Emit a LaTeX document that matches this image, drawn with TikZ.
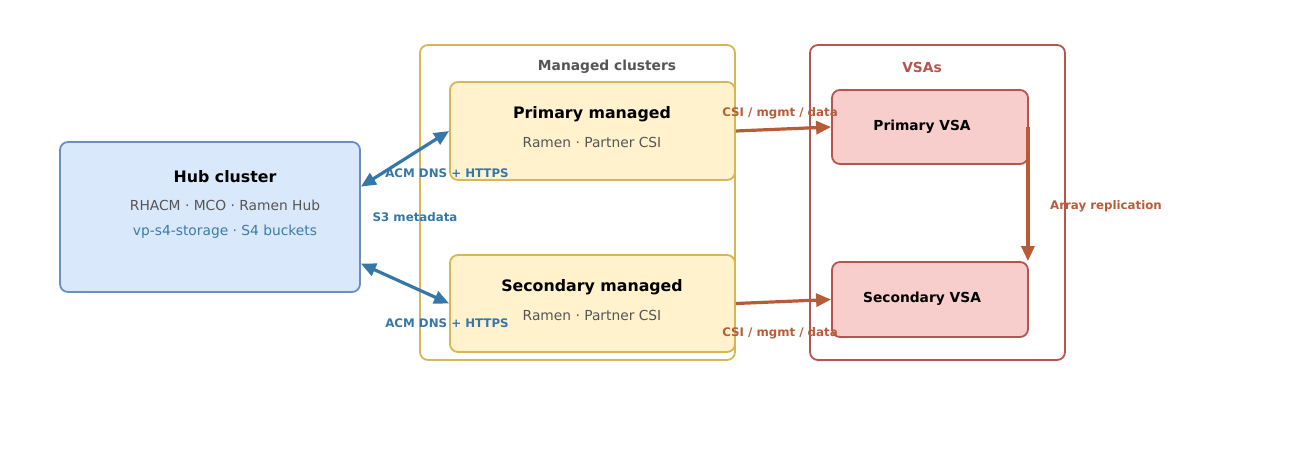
\documentclass[tikz,border=0pt]{standalone}
\usepackage{fontspec}
\setmainfont{DejaVu Sans}
\usetikzlibrary{calc,arrows.meta}
\definecolor{hubfill}{HTML}{DAE8FC}\definecolor{hubline}{HTML}{6C8EBF}
\definecolor{yfill}{HTML}{FFF2CC}\definecolor{yline}{HTML}{D6B656}
\definecolor{rfill}{HTML}{F8CECC}\definecolor{rline}{HTML}{B85450}
\definecolor{blu}{HTML}{3577A8}\definecolor{teal}{HTML}{3A7CA5}
\definecolor{rarr}{HTML}{B85C38}\definecolor{gry}{HTML}{555555}
\begin{document}
\begin{tikzpicture}[x=1pt,y=-1pt,
 box/.style={draw,line width=1.8pt,rounded corners=8pt,inner sep=0pt},
 ttl/.style={font=\fontsize{15.8}{18}\selectfont\bfseries},
 sub/.style={font=\fontsize{13.8}{16}\selectfont,text=gry},
 lbl/.style={font=\fontsize{11.8}{14}\selectfont\bfseries},
 barr/.style={blu,line width=3.2pt,{Triangle[length=15pt,width=13pt]}-{Triangle[length=15pt,width=13pt]}},
 rar/.style={rarr,line width=3.2pt,-{Triangle[length=15pt,width=13pt]}}]
\useasboundingbox (0,0) rectangle (1290,450);
\node[box,draw=yline,fill=white,minimum width=315pt,minimum height=315pt] (mc) at (577.5,202.5) {};
\node[font=\fontsize{13.8}{16}\selectfont\bfseries,text=gry] (mcl) at (607,67) {Managed clusters};
\node[box,draw=rline,fill=white,minimum width=255pt,minimum height=315pt] (vs) at (937.5,202.5) {};
\node[font=\fontsize{13.8}{16}\selectfont\bfseries,text=rline] (vsl) at (922,67) {VSAs};
\node[box,draw=hubline,fill=hubfill,minimum width=300pt,minimum height=150pt] (hub) at (210,217) {};
\node[ttl] (hubt) at (225,177) {Hub cluster};
\node[sub] (hubs) at (225,205) {RHACM · MCO · Ramen Hub};
\node[sub,text=teal] (hubs2) at (225,232) {vp-s4-storage · S4 buckets};
\node[box,draw=yline,fill=yfill,minimum width=285pt,minimum height=98pt] (pm) at (592.5,131) {};
\node[ttl] (pmt) at (592,114) {Primary managed};
\node[sub] (pms) at (592,142) {Ramen · Partner CSI};
\node[box,draw=yline,fill=yfill,minimum width=285pt,minimum height=97pt] (sm) at (592.5,303.5) {};
\node[ttl] (smt) at (592,287) {Secondary managed};
\node[sub] (sms) at (592,315) {Ramen · Partner CSI};
\node[box,draw=rline,fill=rfill,minimum width=196pt,minimum height=74pt] (pv) at (930,127) {};
\node[font=\fontsize{13.8}{16}\selectfont\bfseries] (pvt) at (922,127) {Primary VSA};
\node[box,draw=rline,fill=rfill,minimum width=196pt,minimum height=75pt] (sv) at (930,299.5) {};
\node[font=\fontsize{13.8}{16}\selectfont\bfseries] (svt) at (922,299) {Secondary VSA};
\coordinate (h1) at ($(hub.north east)!0.3!(hub.south east)$);
\coordinate (h2) at ($(hub.north east)!0.807!(hub.south east)$);
\draw[barr] (h1) -- (pm.west);
\draw[barr] (h2) -- (sm.west);
\draw[rar] (pm.east) -- (pv.west);
\draw[rar] (sm.east) -- (sv.west);
\coordinate (r1) at ($(pv.north east)+(-1,38)$);
\coordinate (r2) at ($(sv.north east)+(-1,0)$);
\draw[rar] (r1) -- (r2);
\node[lbl,text=blu] (l1) at (447,173) {ACM DNS + HTTPS};
\node[lbl,text=blu] (l2) at (447,323) {ACM DNS + HTTPS};
\node[lbl,text=blu] (l3) at (415,217) {S3 metadata};
\node[lbl,text=rarr] (l4) at (780,113) {CSI / mgmt / data};
\node[lbl,text=rarr] (l5) at (780,333) {CSI / mgmt / data};
\node[lbl,text=rarr] (l6) at (1106,206) {Array replication};
\end{tikzpicture}
\end{document}
